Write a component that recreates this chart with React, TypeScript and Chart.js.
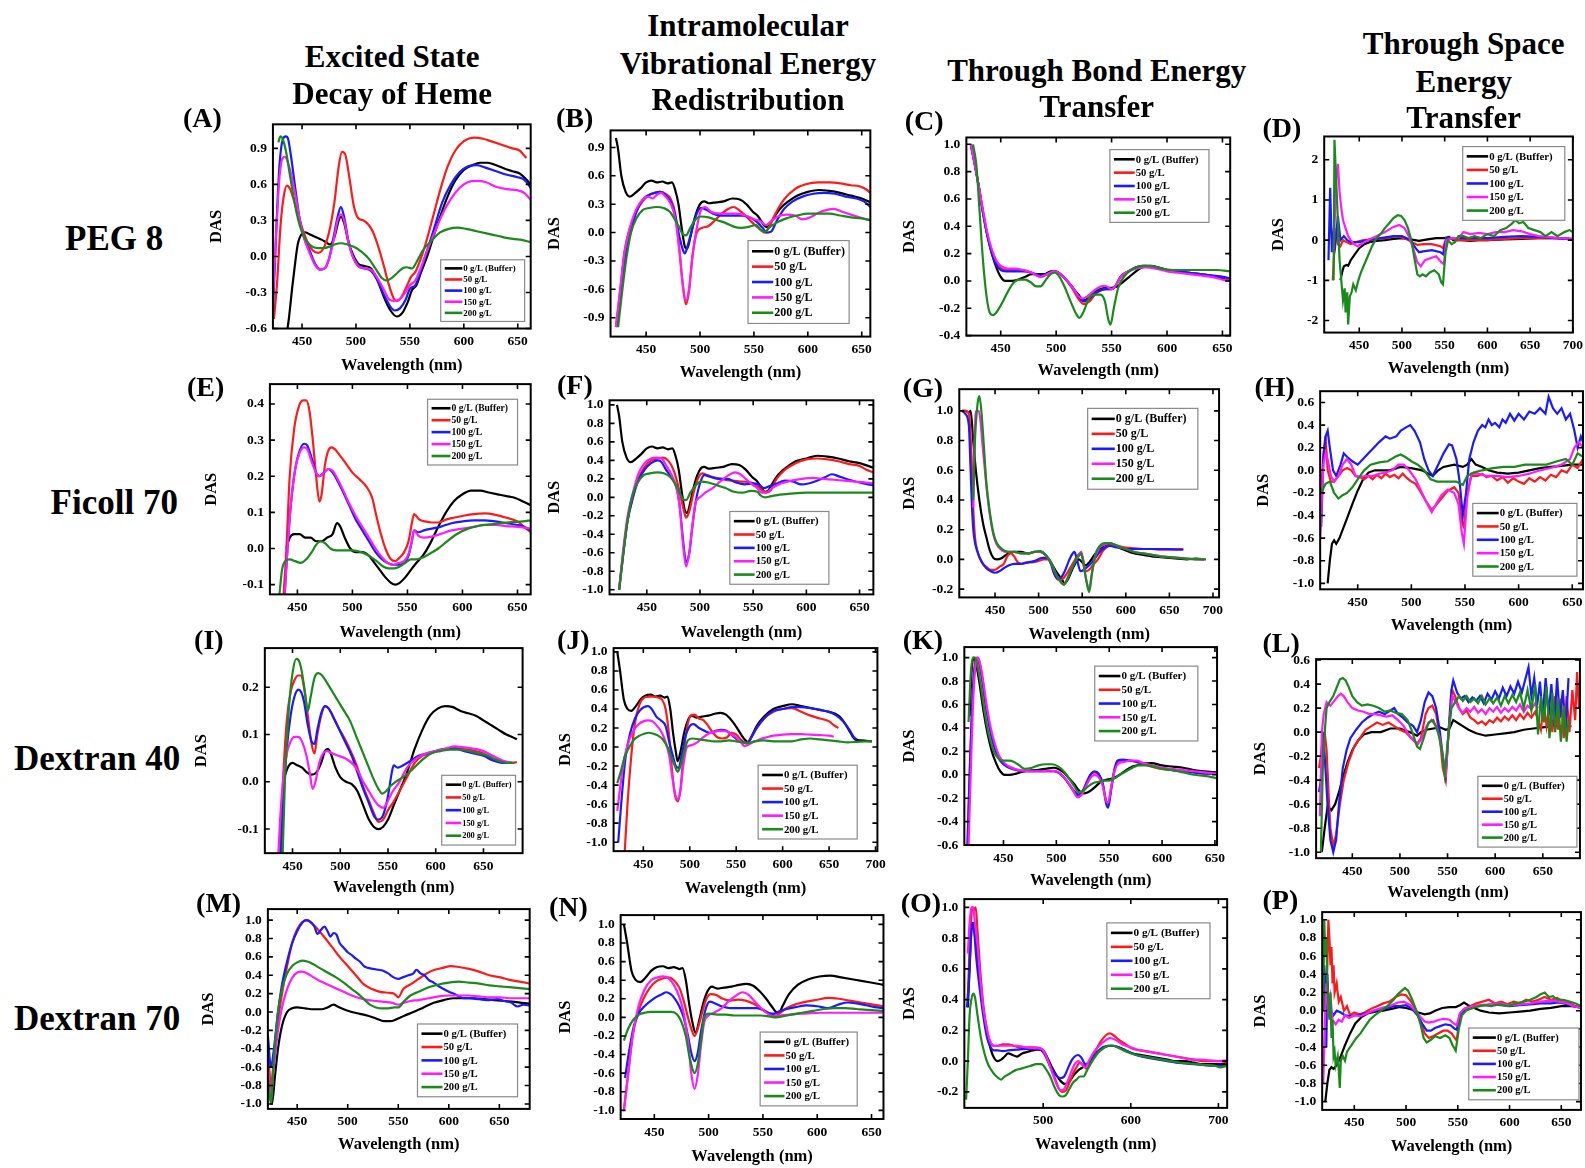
import React, { useEffect, useRef } from "react";
import { Chart, registerables } from "chart.js";

Chart.register(...registerables);

// Layout numbers are given on a 1568-wide grid; K maps them onto the 1585 px page.
const K = 1585 / 1568;
const FONT = "'Liberation Serif', 'Times New Roman', Times, serif";

const LEGEND_LABELS = ["0 g/L (Buffer)", "50 g/L", "100 g/L", "150 g/L", "200 g/L"];
const LINE_COLORS = ["#000000", "#ff1a1a", "#1a1aff", "#ff1aff", "#1a8a1a"];

// Tick values
const X_TICKS_650 = [450, 500, 550, 600, 650];
const X_TICKS_700 = [450, 500, 550, 600, 650, 700];
const X_TICKS_O = [500, 600, 700];
const Y_TICKS_A = [-0.6, -0.3, 0, 0.3, 0.6, 0.9];
const Y_TICKS_B = [-0.9, -0.6, -0.3, 0, 0.3, 0.6, 0.9];
const Y_TICKS_C = [-0.4, -0.2, 0, 0.2, 0.4, 0.6, 0.8, 1.0];
const Y_TICKS_D = [-2, -1, 0, 1, 2];
const Y_TICKS_E = [-0.1, 0, 0.1, 0.2, 0.3, 0.4];
const Y_TICKS_UNIT = [-1.0, -0.8, -0.6, -0.4, -0.2, 0, 0.2, 0.4, 0.6, 0.8, 1.0];
const Y_TICKS_G = [-0.2, 0, 0.2, 0.4, 0.6, 0.8, 1.0];
const Y_TICKS_H = [-1.0, -0.8, -0.6, -0.4, -0.2, 0, 0.2, 0.4, 0.6];
const Y_TICKS_I = [-0.1, 0, 0.1, 0.2];
const Y_TICKS_K = [-0.6, -0.4, -0.2, 0, 0.2, 0.4, 0.6, 0.8, 1.0];

// DAS spectra: flat lists of (wavelength nm, amplitude) pairs
// (A) PEG 8 – excited state decay of heme
const dasA_0 = [435,-0.7, 438,-0.5, 441,-0.25, 443,-0.1, 446,0.1, 450,0.19, 453,0.2, 458,0.18, 463,0.16, 468,0.14, 472,0.12, 476,0.1, 480,0.16, 484,0.3, 486,0.33, 489,0.28, 493,0.12, 497,0.02, 502,-0.06, 508,-0.08, 514,-0.1, 520,-0.2, 526,-0.34, 532,-0.45, 538,-0.5, 543,-0.47, 548,-0.38, 552,-0.28, 556,-0.24, 560,-0.14, 566,0, 572,0.17, 578,0.33, 585,0.5, 592,0.63, 600,0.72, 608,0.76, 615,0.78, 622,0.78, 630,0.76, 638,0.73, 645,0.71, 652,0.69, 658,0.64, 662,0.6];
const dasA_50 = [424,-0.52, 427,-0.2, 430,0.25, 433,0.5, 436,0.59, 439,0.56, 443,0.45, 447,0.33, 450,0.24, 455,0.12, 460,0.05, 465,0.03, 470,0.07, 475,0.2, 480,0.45, 484,0.75, 487,0.87, 490,0.85, 494,0.65, 498,0.42, 502,0.32, 507,0.3, 512,0.26, 516,0.2, 520,0.1, 525,-0.05, 530,-0.22, 535,-0.35, 538,-0.37, 542,-0.34, 547,-0.25, 551,-0.17, 555,-0.13, 560,-0.02, 566,0.15, 572,0.35, 578,0.55, 585,0.75, 592,0.88, 600,0.96, 610,0.99, 618,0.98, 625,0.96, 635,0.93, 645,0.9, 652,0.88, 656,0.84, 658,0.82];
const dasA_100 = [423,-0.47, 426,0.2, 429,0.75, 432,0.97, 435,1.0, 437,0.98, 440,0.82, 444,0.55, 448,0.3, 452,0.15, 457,0.05, 462,-0.06, 467,-0.11, 471,-0.1, 475,-0.02, 479,0.15, 483,0.33, 486,0.41, 489,0.33, 493,0.13, 497,0, 502,-0.08, 508,-0.1, 514,-0.12, 520,-0.2, 526,-0.32, 532,-0.42, 536,-0.45, 541,-0.43, 546,-0.36, 550,-0.27, 555,-0.24, 560,-0.12, 566,0.05, 572,0.22, 580,0.45, 588,0.6, 596,0.7, 604,0.75, 612,0.76, 620,0.74, 630,0.71, 640,0.68, 650,0.66, 656,0.64, 662,0.57];
const dasA_150 = [423,-0.35, 426,0.2, 429,0.65, 432,0.82, 434,0.83, 437,0.78, 440,0.68, 444,0.5, 448,0.3, 452,0.15, 457,0.03, 462,-0.07, 467,-0.11, 471,-0.1, 475,-0.02, 479,0.12, 483,0.3, 486,0.35, 489,0.3, 493,0.12, 497,0, 502,-0.08, 508,-0.1, 514,-0.11, 520,-0.18, 526,-0.28, 531,-0.36, 535,-0.37, 540,-0.36, 545,-0.31, 550,-0.24, 555,-0.2, 560,-0.1, 566,0.05, 572,0.18, 580,0.35, 588,0.48, 596,0.57, 604,0.62, 612,0.63, 620,0.62, 630,0.58, 640,0.56, 650,0.55, 656,0.53, 662,0.47];
const dasA_200 = [428,0.95, 430,1.0, 432,0.98, 435,0.88, 438,0.72, 442,0.5, 446,0.32, 450,0.2, 455,0.12, 460,0.08, 465,0.07, 470,0.07, 475,0.08, 480,0.1, 486,0.11, 492,0.1, 498,0.08, 505,0.04, 512,-0.02, 518,-0.1, 524,-0.18, 528,-0.2, 533,-0.18, 538,-0.14, 543,-0.1, 547,-0.09, 552,-0.1, 556,-0.05, 562,0.05, 570,0.13, 578,0.2, 586,0.23, 594,0.24, 602,0.23, 612,0.21, 622,0.19, 632,0.17, 642,0.15, 652,0.14, 662,0.12];

// (B) PEG 8 – intramolecular vibrational energy redistribution
const dasB_0 = [422,1.0, 424,0.88, 427,0.6, 431,0.43, 435,0.38, 440,0.42, 445,0.47, 450,0.53, 455,0.55, 460,0.53, 465,0.54, 470,0.52, 474,0.53, 477,0.45, 480,0.3, 483,0.05, 486,-0.15, 488,-0.17, 491,-0.05, 495,0.15, 500,0.3, 504,0.33, 508,0.31, 515,0.32, 522,0.33, 530,0.36, 537,0.35, 543,0.3, 549,0.22, 554,0.17, 558,0.1, 561,0.06, 564,0.07, 568,0.15, 574,0.25, 582,0.33, 590,0.39, 600,0.43, 610,0.45, 620,0.44, 630,0.42, 640,0.39, 650,0.36, 658,0.32];
const dasB_50 = [422,-1.0, 426,-0.6, 430,-0.2, 435,0.05, 440,0.2, 446,0.32, 452,0.39, 458,0.42, 463,0.43, 468,0.41, 473,0.35, 477,0.2, 481,-0.2, 484,-0.55, 487,-0.76, 490,-0.6, 493,-0.25, 497,0, 502,0.05, 508,0.07, 514,0.13, 520,0.2, 526,0.25, 531,0.27, 536,0.24, 542,0.18, 548,0.11, 553,0.06, 557,0.02, 560,0, 564,0.06, 570,0.2, 578,0.35, 588,0.46, 598,0.51, 610,0.53, 620,0.53, 630,0.52, 640,0.5, 648,0.49, 655,0.45, 658,0.42];
const dasB_100 = [423,-1.0, 427,-0.6, 431,-0.25, 436,0.02, 441,0.22, 447,0.35, 453,0.4, 458,0.42, 463,0.43, 468,0.4, 473,0.32, 477,0.18, 481,-0.05, 484,-0.18, 486,-0.22, 489,-0.12, 493,0.05, 497,0.2, 501,0.26, 506,0.24, 512,0.2, 520,0.18, 530,0.18, 540,0.18, 548,0.15, 554,0.1, 558,0.05, 562,0, 566,0.01, 571,0.12, 578,0.25, 586,0.33, 595,0.38, 605,0.41, 615,0.42, 625,0.41, 635,0.38, 645,0.36, 652,0.33, 658,0.27];
const dasB_150 = [422,-1.0, 426,-0.6, 430,-0.2, 435,0.05, 441,0.25, 447,0.35, 452,0.38, 456,0.36, 460,0.4, 464,0.42, 468,0.38, 473,0.3, 477,0.15, 481,-0.2, 484,-0.55, 487,-0.72, 490,-0.58, 493,-0.25, 497,0.05, 501,0.24, 505,0.27, 510,0.22, 518,0.2, 526,0.2, 534,0.2, 542,0.18, 550,0.14, 556,0.12, 561,0.08, 566,0.12, 572,0.17, 580,0.19, 588,0.18, 595,0.14, 602,0.16, 610,0.21, 618,0.24, 624,0.25, 632,0.22, 640,0.19, 648,0.16, 655,0.14, 658,0.13];
const dasB_200 = [424,-1.0, 428,-0.6, 432,-0.25, 436,0, 441,0.15, 447,0.24, 453,0.26, 460,0.27, 466,0.26, 472,0.22, 477,0.13, 481,0.05, 484,-0.02, 487,-0.03, 491,0.05, 496,0.14, 501,0.17, 508,0.16, 516,0.13, 524,0.1, 532,0.06, 538,0.05, 545,0.06, 552,0.08, 557,0.02, 560,0.01, 565,0.06, 572,0.11, 580,0.15, 590,0.18, 600,0.2, 610,0.2, 620,0.2, 630,0.18, 640,0.16, 650,0.15, 658,0.13];

// (C) PEG 8 – through bond energy transfer
const dasC_0 = [423,1.0, 426,0.88, 430,0.7, 434,0.5, 438,0.33, 442,0.2, 446,0.1, 450,0.03, 454,0, 460,0, 466,0.01, 472,0.03, 478,0.05, 484,0.05, 490,0.05, 495,0.07, 500,0.07, 505,0.04, 510,0, 515,-0.05, 520,-0.1, 525,-0.14, 530,-0.12, 535,-0.08, 540,-0.06, 545,-0.05, 550,-0.05, 555,-0.04, 560,-0.01, 566,0.03, 572,0.07, 578,0.1, 585,0.11, 592,0.1, 600,0.08, 610,0.07, 620,0.06, 630,0.05, 640,0.04, 650,0.02, 657,0.01];
const dasC_50 = [423,1.0, 426,0.88, 430,0.7, 434,0.5, 438,0.33, 442,0.22, 446,0.14, 450,0.1, 456,0.08, 462,0.08, 470,0.08, 478,0.06, 486,0.03, 492,0.05, 498,0.07, 504,0.05, 510,0, 515,-0.06, 520,-0.13, 525,-0.17, 530,-0.15, 535,-0.1, 540,-0.07, 545,-0.06, 550,-0.06, 554,-0.03, 558,0.03, 565,0.07, 572,0.1, 580,0.11, 590,0.1, 600,0.08, 610,0.07, 620,0.06, 630,0.05, 640,0.04, 650,0.03, 657,0.01];
const dasC_100 = [423,1.0, 426,0.88, 430,0.7, 434,0.5, 438,0.33, 442,0.2, 446,0.12, 450,0.08, 456,0.07, 462,0.07, 470,0.07, 478,0.06, 486,0.04, 492,0.05, 498,0.07, 504,0.05, 510,0, 515,-0.05, 520,-0.11, 525,-0.15, 530,-0.13, 535,-0.09, 540,-0.07, 545,-0.06, 550,-0.06, 554,-0.03, 558,0.03, 565,0.07, 572,0.1, 580,0.11, 590,0.1, 600,0.08, 610,0.07, 620,0.06, 630,0.05, 640,0.04, 650,0.03, 657,0.02];
const dasC_150 = [423,1.0, 426,0.88, 430,0.7, 434,0.52, 438,0.35, 442,0.23, 446,0.15, 450,0.11, 456,0.09, 462,0.09, 470,0.08, 478,0.06, 486,0.03, 492,0.05, 498,0.07, 504,0.05, 510,0, 515,-0.05, 520,-0.11, 524,-0.13, 530,-0.1, 536,-0.06, 540,-0.04, 544,-0.035, 550,-0.06, 554,-0.03, 558,0.03, 565,0.07, 572,0.09, 580,0.1, 590,0.09, 600,0.07, 610,0.06, 620,0.05, 630,0.04, 640,0.03, 650,0.01, 657,0];
const dasC_200 = [425,1.0, 428,0.85, 431,0.5, 434,0.15, 437,-0.1, 440,-0.23, 443,-0.25, 447,-0.22, 452,-0.15, 457,-0.07, 462,-0.01, 467,0.01, 472,0.01, 477,-0.01, 482,-0.04, 486,-0.04, 490,0, 495,0.05, 499,0.06, 503,0.03, 508,-0.05, 513,-0.15, 518,-0.24, 521,-0.27, 525,-0.22, 530,-0.12, 535,-0.1, 540,-0.1, 544,-0.15, 547,-0.28, 549,-0.32, 552,-0.2, 556,-0.05, 562,0.04, 570,0.09, 578,0.11, 585,0.11, 595,0.09, 605,0.08, 615,0.08, 630,0.08, 645,0.08, 657,0.07];

// (D) PEG 8 – through space energy transfer
const dasD_0 = [428,-1.0, 430,-0.8, 432,-0.65, 435,-0.62, 437,-0.64, 440,-0.5, 445,-0.35, 450,-0.2, 456,-0.1, 462,-0.05, 470,-0.02, 480,0, 490,0.03, 500,0.05, 510,0.02, 520,-0.02, 530,0.02, 540,0.05, 550,0.05, 555,0.08, 560,0, 570,0, 580,-0.02, 590,0, 600,0, 620,0.02, 640,0.03, 660,0.05, 680,0.05, 700,0.03];
const dasD_50 = [419,-1.0, 421,-0.2, 423,0.3, 425,-0.1, 428,-0.15, 431,0, 435,-0.05, 440,-0.1, 446,-0.05, 455,0, 465,0.02, 480,0.05, 495,0.1, 505,0.03, 512,-0.05, 518,-0.12, 525,-0.1, 535,-0.1, 545,-0.15, 548,-0.2, 552,0.05, 556,0.05, 565,0, 580,0, 600,0, 620,0.03, 640,0.05, 660,0.05, 680,0.05, 700,0.02];
const dasD_100 = [414,-0.5, 416,1.3, 418,-0.3, 420,0.2, 422,-0.1, 425,0.6, 428,0, 432,0.1, 436,0, 440,-0.05, 450,-0.05, 460,0, 475,0.05, 490,0.1, 500,0.1, 510,0, 516,-0.2, 520,-0.3, 525,-0.28, 535,-0.25, 545,-0.3, 548,-0.35, 552,0.05, 560,0.05, 575,0.05, 600,0.05, 620,0.08, 640,0.1, 660,0.08, 680,0.05, 700,0.02];
const dasD_150 = [420,-0.3, 423,1.5, 425,1.9, 427,1.2, 429,0.8, 431,0.5, 434,0.3, 437,0.1, 440,0, 444,-0.1, 448,-0.15, 452,-0.1, 460,0, 470,0.1, 480,0.2, 490,0.33, 497,0.38, 503,0.3, 508,0.1, 513,-0.2, 518,-0.55, 522,-0.65, 527,-0.5, 533,-0.45, 540,-0.4, 546,-0.55, 549,-0.6, 552,0, 558,0.05, 566,0.05, 572,0.2, 580,0.15, 590,0.18, 600,0.15, 610,0.2, 620,0.2, 630,0.25, 640,0.22, 650,0.15, 660,0.1, 670,0.08, 685,0.05, 700,0.03];
const dasD_200 = [420,-1.0, 421,2.5, 423,1.5, 425,0.5, 427,-0.5, 429,-1.0, 431,-1.5, 433,-1.2, 434,-1.8, 436,-1.3, 437,-2.1, 439,-1.4, 441,-1.3, 443,-1.1, 446,-1.25, 449,-1.0, 452,-0.8, 456,-0.6, 460,-0.4, 465,-0.15, 470,0.05, 475,0.15, 480,0.3, 485,0.42, 490,0.55, 495,0.62, 499,0.6, 503,0.5, 507,0.3, 511,0, 515,-0.5, 518,-0.85, 521,-0.9, 524,-0.85, 528,-0.9, 533,-0.8, 538,-0.75, 543,-0.85, 546,-1.05, 548,-1.1, 551,-0.3, 554,0, 558,-0.1, 562,-0.05, 566,0.1, 572,0.1, 578,0.05, 585,0.1, 592,0.05, 600,0.15, 608,0.1, 615,0.25, 622,0.3, 628,0.4, 633,0.5, 637,0.42, 642,0.45, 648,0.3, 655,0.25, 662,0.2, 668,0.1, 675,0.2, 682,0.1, 690,0.2, 696,0.25, 700,0.2];

// (E) Ficoll 70 – excited state decay of heme
const dasE_0 = [440,0, 443,0.03, 447,0.04, 452,0.04, 457,0.03, 462,0.03, 467,0.02, 472,0.02, 477,0.03, 482,0.04, 486,0.07, 489,0.06, 493,0.03, 498,0, 503,-0.01, 509,-0.01, 515,-0.02, 520,-0.04, 525,-0.06, 530,-0.08, 535,-0.095, 539,-0.1, 543,-0.095, 548,-0.08, 553,-0.06, 558,-0.04, 564,-0.02, 570,0.01, 578,0.06, 585,0.1, 592,0.13, 600,0.15, 608,0.16, 616,0.16, 624,0.155, 632,0.15, 640,0.145, 648,0.14, 655,0.13, 662,0.12];
const dasE_50 = [437,-0.15, 440,0, 443,0.2, 447,0.33, 451,0.39, 455,0.41, 458,0.41, 461,0.38, 464,0.3, 467,0.2, 470,0.13, 472,0.15, 475,0.23, 478,0.27, 481,0.28, 484,0.275, 488,0.26, 493,0.24, 500,0.21, 507,0.19, 513,0.17, 518,0.14, 521,0.1, 525,0.05, 530,0, 535,-0.03, 539,-0.035, 543,-0.025, 547,-0.01, 551,0.02, 554,0.07, 556,0.095, 558,0.09, 561,0.08, 566,0.075, 572,0.072, 578,0.072, 585,0.08, 592,0.085, 600,0.09, 610,0.095, 620,0.097, 630,0.093, 640,0.085, 650,0.075, 656,0.06, 662,0.045];
const dasE_100 = [438,-0.15, 441,0, 444,0.12, 448,0.22, 452,0.27, 456,0.29, 459,0.285, 463,0.25, 467,0.21, 470,0.2, 474,0.21, 478,0.22, 482,0.21, 486,0.19, 491,0.16, 497,0.12, 503,0.08, 509,0.05, 515,0.02, 521,-0.01, 527,-0.03, 532,-0.04, 537,-0.045, 542,-0.045, 547,-0.04, 551,-0.02, 554,0.02, 556,0.05, 560,0.045, 565,0.05, 572,0.055, 580,0.06, 590,0.07, 600,0.075, 610,0.078, 620,0.078, 630,0.075, 640,0.07, 650,0.065, 656,0.06, 662,0.05];
const dasE_150 = [438,-0.15, 441,0, 444,0.12, 448,0.22, 452,0.265, 456,0.28, 459,0.275, 463,0.24, 467,0.21, 470,0.2, 474,0.21, 478,0.22, 482,0.215, 486,0.195, 491,0.165, 497,0.125, 503,0.09, 509,0.06, 515,0.03, 521,0, 527,-0.025, 532,-0.04, 537,-0.045, 542,-0.04, 547,-0.035, 551,-0.015, 554,0.02, 556,0.05, 560,0.035, 565,0.03, 572,0.033, 580,0.04, 590,0.05, 600,0.055, 610,0.06, 620,0.065, 630,0.065, 640,0.062, 650,0.06, 656,0.058, 662,0.055];
const dasE_200 = [433,-0.15, 436,-0.06, 439,-0.035, 443,-0.03, 448,-0.035, 453,-0.04, 458,-0.03, 463,-0.01, 467,0.01, 471,0.02, 475,0.015, 480,0, 485,-0.005, 492,-0.005, 500,-0.005, 508,-0.01, 515,-0.02, 522,-0.035, 528,-0.05, 533,-0.055, 538,-0.055, 543,-0.05, 548,-0.04, 553,-0.03, 558,-0.03, 564,-0.025, 570,-0.015, 578,0, 586,0.02, 595,0.04, 605,0.055, 615,0.063, 625,0.067, 635,0.07, 645,0.073, 655,0.075, 662,0.078];

// (F) Ficoll 70 – intramolecular vibrational energy redistribution
const dasF_0 = [422,1.0, 424,0.88, 427,0.6, 431,0.43, 435,0.38, 440,0.42, 445,0.47, 450,0.53, 455,0.55, 460,0.53, 465,0.54, 470,0.52, 474,0.53, 477,0.45, 480,0.3, 483,0.05, 486,-0.15, 488,-0.17, 491,-0.05, 495,0.15, 500,0.3, 504,0.33, 508,0.31, 515,0.32, 522,0.33, 530,0.36, 537,0.35, 543,0.3, 549,0.22, 554,0.17, 558,0.1, 561,0.06, 564,0.07, 568,0.15, 574,0.25, 582,0.33, 590,0.39, 600,0.42, 610,0.45, 620,0.44, 630,0.42, 640,0.39, 650,0.37, 663,0.32];
const dasF_50 = [424,-1.0, 428,-0.6, 432,-0.25, 437,0, 442,0.2, 448,0.33, 454,0.4, 460,0.42, 465,0.43, 470,0.4, 475,0.3, 479,0.15, 482,0, 485,-0.15, 487,-0.22, 490,-0.15, 494,0.05, 498,0.2, 502,0.26, 507,0.24, 512,0.22, 520,0.2, 530,0.18, 540,0.17, 548,0.16, 554,0.12, 558,0.08, 562,0.05, 566,0.07, 572,0.2, 580,0.3, 590,0.37, 600,0.41, 610,0.42, 620,0.41, 630,0.39, 640,0.36, 650,0.34, 656,0.3, 663,0.27];
const dasF_100 = [424,-1.0, 428,-0.6, 432,-0.25, 437,0, 442,0.18, 448,0.3, 454,0.37, 460,0.4, 464,0.38, 468,0.3, 473,0.22, 478,0.1, 481,-0.1, 484,-0.45, 487,-0.7, 490,-0.6, 493,-0.3, 496,-0.05, 500,0.15, 504,0.24, 510,0.22, 518,0.2, 526,0.2, 534,0.16, 542,0.14, 550,0.15, 555,0.14, 560,0.1, 565,0.12, 572,0.15, 580,0.18, 588,0.17, 595,0.14, 602,0.15, 610,0.18, 618,0.22, 624,0.25, 630,0.23, 640,0.19, 650,0.16, 658,0.14, 663,0.13];
const dasF_150 = [424,-1.0, 428,-0.55, 432,-0.2, 437,0.05, 442,0.25, 448,0.37, 454,0.42, 459,0.43, 464,0.42, 468,0.35, 473,0.25, 478,0.1, 481,-0.1, 484,-0.5, 487,-0.75, 490,-0.6, 493,-0.3, 496,-0.05, 500,0, 505,0.05, 512,0.1, 520,0.18, 527,0.24, 533,0.27, 538,0.25, 543,0.2, 549,0.14, 554,0.1, 558,0.05, 562,0.05, 568,0.1, 576,0.15, 586,0.18, 596,0.2, 606,0.21, 616,0.2, 626,0.19, 636,0.18, 646,0.17, 656,0.16, 663,0.15];
const dasF_200 = [424,-1.0, 428,-0.6, 432,-0.25, 436,0, 441,0.15, 447,0.24, 453,0.26, 460,0.27, 466,0.26, 472,0.22, 477,0.14, 481,0.05, 484,-0.02, 487,-0.03, 491,0.05, 496,0.13, 501,0.17, 508,0.16, 516,0.13, 524,0.1, 532,0.06, 540,0.05, 548,0.07, 554,0.06, 557,0.02, 561,0, 566,0.01, 575,0.03, 585,0.04, 600,0.05, 620,0.05, 640,0.05, 663,0.05];

// (G) Ficoll 70 – through bond energy transfer
const dasG_0 = [412,1.0, 416,1.0, 420,0.99, 422,1.0, 425,0.8, 428,0.6, 432,0.4, 436,0.25, 440,0.15, 444,0.06, 448,0.01, 452,0, 458,0.01, 465,0.04, 472,0.05, 480,0.05, 488,0.04, 495,0.05, 502,0.05, 508,0.03, 514,-0.02, 520,-0.08, 526,-0.13, 530,-0.16, 534,-0.13, 540,-0.05, 546,0, 550,-0.02, 554,-0.04, 558,-0.02, 564,0.03, 570,0.07, 578,0.1, 585,0.1, 592,0.08, 600,0.06, 610,0.04, 620,0.03, 630,0.02, 640,0.015, 650,0.01, 660,0.005, 670,0, 680,0.005, 690,0];
const dasG_50 = [412,1.0, 416,1.0, 420,0.98, 423,0.7, 425,0.35, 427,0.15, 430,0.05, 435,-0.02, 440,-0.05, 445,-0.07, 450,-0.07, 455,-0.05, 460,-0.03, 464,0.02, 468,0.04, 472,0.02, 476,-0.02, 480,-0.03, 486,-0.02, 492,-0.02, 500,-0.01, 506,0, 512,0, 516,-0.05, 520,-0.12, 524,-0.14, 528,-0.13, 532,-0.1, 536,-0.06, 540,-0.02, 544,0.02, 548,0.04, 551,0, 554,-0.08, 558,-0.07, 562,-0.04, 568,0, 574,0.06, 580,0.09, 586,0.1, 592,0.09, 600,0.08, 610,0.075, 620,0.07, 630,0.07, 640,0.065, 650,0.065, 660,0.07, 666,0.07];
const dasG_100 = [412,1.0, 416,0.98, 420,0.9, 422,0.6, 424,0.3, 426,0.15, 430,0.05, 435,-0.02, 440,-0.06, 445,-0.08, 450,-0.09, 455,-0.08, 460,-0.06, 466,-0.04, 472,-0.03, 480,-0.03, 488,-0.02, 496,-0.01, 504,0.01, 510,0.01, 514,-0.03, 518,-0.1, 522,-0.13, 526,-0.12, 530,-0.08, 534,-0.02, 538,0.03, 541,0.05, 544,0, 548,-0.08, 552,-0.07, 558,-0.04, 564,0, 570,0.05, 576,0.08, 582,0.09, 590,0.08, 600,0.07, 610,0.07, 620,0.07, 630,0.07, 640,0.07, 650,0.07, 660,0.065, 666,0.065];
const dasG_150 = [425,0.35, 427,0.9, 429,1.0, 431,1.0, 433,0.95, 436,0.75, 440,0.5, 444,0.3, 448,0.17, 452,0.1, 458,0.06, 465,0.05, 472,0.05, 480,0.04, 488,0.04, 495,0.05, 502,0.05, 508,0.03, 514,-0.02, 520,-0.1, 525,-0.15, 529,-0.17, 533,-0.13, 538,-0.06, 543,0, 547,0.04, 549,0.05, 552,-0.05, 555,-0.15, 558,-0.2, 561,-0.1, 565,0.02, 570,0.08, 576,0.1, 582,0.11, 590,0.09, 600,0.07, 610,0.05, 620,0.04, 630,0.03, 640,0.02, 650,0.015, 660,0.01, 670,0.005, 680,0, 690,0];
const dasG_200 = [425,0.4, 427,0.8, 430,1.05, 432,1.1, 434,1.02, 437,0.78, 440,0.52, 444,0.32, 448,0.18, 452,0.11, 458,0.07, 465,0.05, 472,0.05, 480,0.04, 488,0.04, 495,0.05, 502,0.055, 508,0.03, 514,-0.02, 520,-0.1, 525,-0.15, 529,-0.17, 533,-0.13, 538,-0.06, 543,0, 547,0.03, 549,0.04, 552,-0.05, 555,-0.15, 558,-0.22, 561,-0.1, 565,0.03, 570,0.09, 576,0.11, 582,0.11, 590,0.09, 600,0.07, 610,0.05, 620,0.04, 630,0.03, 640,0.02, 650,0.015, 660,0.01, 670,0.005, 680,0, 692,0];

// (H) Ficoll 70 – through space energy transfer
const dasH_0 = [422,-1.0, 424,-0.8, 426,-0.65, 428,-0.62, 430,-0.65, 433,-0.6, 437,-0.5, 441,-0.4, 445,-0.3, 450,-0.18, 455,-0.08, 460,-0.02, 466,0, 472,0, 480,0, 490,0.03, 500,0.02, 510,0, 516,-0.03, 520,-0.05, 525,0, 530,0.03, 540,0.05, 548,0.03, 552,0.05, 556,0.1, 560,0.05, 566,0.03, 572,0, 580,-0.02, 590,-0.03, 600,-0.02, 610,0, 620,0.02, 630,0.03, 640,0.04, 650,0.05, 660,0.05];
const dasH_50 = [416,-0.2, 418,0.15, 420,0.3, 422,0, 425,-0.1, 428,-0.1, 432,-0.05, 436,0, 440,0.02, 444,0, 448,-0.05, 452,-0.06, 456,-0.08, 460,-0.05, 464,-0.08, 468,-0.04, 472,-0.07, 476,-0.03, 480,-0.06, 484,-0.04, 488,-0.07, 492,-0.03, 496,-0.07, 500,-0.1, 504,-0.12, 508,-0.18, 514,-0.28, 519,-0.35, 522,-0.32, 528,-0.25, 534,-0.18, 540,-0.15, 544,-0.2, 547,-0.45, 549,-0.5, 552,-0.2, 556,-0.05, 562,-0.05, 566,-0.03, 570,-0.06, 575,-0.05, 580,-0.09, 585,-0.06, 590,-0.11, 595,-0.07, 600,-0.1, 605,-0.12, 610,-0.07, 615,-0.1, 620,-0.06, 625,-0.09, 630,-0.04, 635,-0.06, 640,0, 645,-0.02, 650,0.05, 655,0.02, 660,0.1];
const dasH_100 = [416,-0.5, 418,0.1, 420,0.3, 422,0.35, 424,0.2, 427,0, 430,-0.05, 434,0.05, 437,0.15, 440,0.12, 445,0.08, 450,0.05, 455,0.1, 460,0.15, 465,0.2, 470,0.25, 476,0.3, 480,0.28, 486,0.3, 490,0.35, 495,0.38, 499,0.4, 503,0.35, 508,0.25, 512,0.1, 516,0, 520,-0.05, 525,0.05, 530,0.15, 535,0.23, 538,0.22, 542,0.1, 545,-0.1, 548,-0.4, 551,-0.2, 554,0.1, 558,0.25, 562,0.35, 566,0.4, 569,0.38, 572,0.45, 575,0.4, 578,0.42, 582,0.38, 585,0.45, 588,0.42, 592,0.5, 596,0.44, 600,0.5, 605,0.45, 610,0.52, 615,0.5, 620,0.55, 625,0.5, 628,0.65, 632,0.55, 636,0.5, 640,0.55, 644,0.45, 648,0.5, 652,0.35, 655,0.2, 658,0.3, 660,0.25];
const dasH_150 = [415,-0.6, 418,0.05, 420,0.15, 422,0.1, 425,-0.05, 428,-0.1, 432,-0.05, 436,0.05, 440,0.1, 444,0.05, 448,-0.05, 452,-0.06, 458,-0.05, 464,-0.05, 470,-0.03, 476,-0.02, 482,0, 488,0.05, 493,0.05, 498,0, 504,-0.08, 510,-0.2, 515,-0.3, 519,-0.37, 523,-0.3, 528,-0.22, 534,-0.17, 540,-0.2, 544,-0.3, 547,-0.55, 549,-0.65, 552,-0.25, 556,-0.03, 562,-0.03, 570,-0.05, 580,-0.05, 590,-0.06, 600,-0.05, 610,-0.03, 620,0, 630,0.02, 640,0.05, 648,0.1, 652,0.2, 656,0.25, 660,0.2];
const dasH_200 = [416,-0.2, 420,-0.12, 424,-0.1, 428,-0.2, 432,-0.25, 436,-0.22, 440,-0.2, 445,-0.15, 450,-0.08, 456,0, 462,0.05, 470,0.07, 478,0.08, 485,0.12, 490,0.14, 494,0.12, 500,0.08, 506,0.05, 512,0, 518,-0.08, 524,-0.1, 530,-0.1, 536,-0.1, 542,-0.1, 548,-0.13, 552,-0.05, 558,-0.02, 566,0, 576,0.02, 586,0.03, 596,0.03, 606,0.05, 616,0.05, 626,0.05, 636,0.08, 644,0.1, 650,0.05, 655,0.15, 660,0.12];

// (I) Dextran 40 – excited state decay of heme
const dasI_0 = [440,0, 445,0.03, 450,0.04, 455,0.035, 460,0.03, 465,0.02, 470,0.015, 475,0.02, 480,0.04, 484,0.065, 487,0.07, 490,0.06, 495,0.03, 500,0.01, 506,0, 512,-0.005, 518,-0.02, 524,-0.05, 530,-0.08, 535,-0.095, 540,-0.1, 545,-0.095, 550,-0.08, 556,-0.05, 562,-0.02, 570,0.02, 578,0.07, 586,0.11, 594,0.14, 602,0.155, 610,0.16, 618,0.158, 626,0.15, 634,0.145, 642,0.14, 650,0.13, 658,0.12, 666,0.11, 674,0.1, 680,0.095, 685,0.09];
const dasI_50 = [436,-0.2, 440,0, 444,0.13, 448,0.19, 452,0.215, 456,0.225, 459,0.225, 462,0.2, 466,0.14, 470,0.08, 473,0.06, 476,0.1, 480,0.14, 484,0.16, 488,0.155, 492,0.14, 498,0.115, 505,0.09, 512,0.06, 518,0.03, 524,-0.01, 530,-0.04, 536,-0.07, 540,-0.085, 545,-0.08, 550,-0.06, 555,-0.045, 562,-0.02, 570,0.01, 578,0.04, 586,0.055, 594,0.06, 602,0.065, 610,0.07, 618,0.072, 626,0.07, 634,0.068, 642,0.065, 650,0.06, 658,0.05, 666,0.045, 674,0.04, 680,0.04, 685,0.042];
const dasI_100 = [437,-0.2, 440,-0.05, 444,0.07, 448,0.14, 452,0.18, 456,0.195, 459,0.19, 462,0.17, 466,0.12, 470,0.085, 473,0.08, 476,0.11, 480,0.145, 484,0.16, 488,0.155, 492,0.14, 498,0.115, 505,0.085, 512,0.055, 518,0.02, 524,-0.015, 530,-0.045, 536,-0.075, 540,-0.08, 545,-0.07, 550,-0.03, 554,0.02, 556,0.035, 560,0.03, 566,0.035, 574,0.045, 582,0.055, 590,0.06, 600,0.065, 610,0.07, 620,0.07, 630,0.065, 640,0.06, 650,0.055, 660,0.045, 670,0.04, 680,0.04];
const dasI_150 = [434,-0.2, 437,-0.08, 440,0, 444,0.06, 448,0.085, 452,0.095, 456,0.095, 460,0.085, 464,0.06, 468,0.02, 471,-0.015, 474,0, 478,0.04, 482,0.06, 486,0.065, 492,0.06, 498,0.055, 505,0.05, 512,0.04, 518,0.025, 524,0, 530,-0.02, 536,-0.04, 540,-0.05, 545,-0.055, 550,-0.04, 555,-0.02, 562,0, 570,0.03, 580,0.05, 590,0.06, 600,0.065, 610,0.07, 620,0.075, 630,0.073, 640,0.07, 650,0.065, 660,0.055, 670,0.045, 680,0.04];
const dasI_200 = [439,-0.2, 442,0, 446,0.15, 450,0.23, 454,0.26, 457,0.255, 460,0.23, 463,0.19, 466,0.15, 469,0.18, 473,0.22, 477,0.23, 481,0.225, 486,0.21, 492,0.19, 498,0.17, 504,0.15, 510,0.13, 516,0.1, 522,0.07, 528,0.04, 534,0.01, 540,-0.015, 544,-0.025, 548,-0.02, 552,-0.01, 558,0, 566,0.01, 575,0.025, 585,0.045, 595,0.06, 605,0.065, 615,0.068, 625,0.068, 635,0.065, 645,0.06, 655,0.055, 665,0.045, 675,0.04, 682,0.04];

// (J) Dextran 40 – intramolecular vibrational energy redistribution
const dasJ_0 = [422,1.0, 425,0.8, 429,0.5, 433,0.4, 437,0.38, 442,0.43, 447,0.5, 452,0.54, 458,0.55, 463,0.53, 468,0.54, 473,0.52, 476,0.53, 479,0.4, 482,0.15, 485,-0.05, 487,-0.15, 490,-0.05, 494,0.15, 498,0.28, 502,0.33, 507,0.31, 513,0.32, 520,0.33, 527,0.35, 533,0.36, 539,0.34, 545,0.28, 551,0.2, 556,0.12, 560,0.07, 563,0.05, 566,0.1, 572,0.22, 580,0.32, 590,0.4, 600,0.43, 610,0.45, 620,0.43, 630,0.41, 640,0.39, 650,0.37, 660,0.33, 667,0.25, 673,0.15, 678,0.08, 684,0.07, 690,0.065, 696,0.06];
const dasJ_50 = [430,-1.1, 433,-0.6, 437,-0.1, 441,0.25, 446,0.45, 451,0.52, 456,0.53, 461,0.53, 466,0.52, 470,0.5, 474,0.4, 478,0.1, 481,-0.25, 484,-0.5, 487,-0.57, 490,-0.45, 493,-0.1, 497,0.2, 501,0.33, 505,0.34, 510,0.3, 515,0.28, 520,0.22, 525,0.15, 530,0.1, 535,0.09, 540,0.1, 545,0.15, 550,0.13, 555,0.08, 560,0.04, 565,0.08, 572,0.2, 580,0.3, 590,0.37, 600,0.4, 610,0.41, 620,0.37, 630,0.33, 640,0.3, 650,0.27, 655,0.23, 660,0.2];
const dasJ_100 = [423,-1.0, 427,-0.5, 431,-0.1, 436,0.15, 441,0.3, 446,0.38, 451,0.42, 455,0.43, 459,0.4, 464,0.32, 469,0.28, 474,0.22, 478,0.05, 482,-0.1, 485,-0.2, 488,-0.22, 491,-0.1, 495,0.1, 500,0.22, 504,0.24, 510,0.2, 516,0.17, 522,0.15, 528,0.17, 534,0.18, 540,0.17, 546,0.12, 552,0.07, 558,0.05, 562,0.04, 566,0.1, 572,0.2, 580,0.3, 590,0.38, 600,0.4, 610,0.42, 620,0.42, 630,0.41, 640,0.39, 650,0.37, 658,0.33, 665,0.27, 672,0.18, 677,0.1, 680,0.08];
const dasJ_150 = [422,-0.67, 426,-0.35, 430,-0.1, 435,0.08, 440,0.18, 445,0.24, 450,0.27, 455,0.28, 460,0.27, 465,0.22, 470,0.15, 474,0.05, 478,-0.1, 481,-0.3, 484,-0.48, 487,-0.55, 490,-0.45, 493,-0.2, 497,0, 502,0.02, 508,0.05, 514,0.1, 520,0.14, 526,0.16, 532,0.17, 538,0.17, 544,0.14, 550,0.1, 555,0.05, 559,0.01, 562,0.02, 568,0.05, 575,0.08, 582,0.1, 590,0.12, 600,0.13, 610,0.135, 620,0.135, 630,0.13, 640,0.125, 650,0.12, 655,0.11];
const dasJ_200 = [422,-0.38, 426,-0.25, 430,-0.1, 435,0, 440,0.08, 446,0.12, 451,0.14, 456,0.15, 461,0.14, 466,0.12, 471,0.08, 476,0, 480,-0.1, 484,-0.2, 487,-0.26, 490,-0.2, 494,-0.05, 498,0.07, 503,0.09, 510,0.08, 518,0.07, 526,0.06, 534,0.06, 542,0.07, 550,0.06, 556,0.05, 562,0.04, 570,0.06, 580,0.07, 590,0.06, 600,0.06, 610,0.06, 620,0.08, 630,0.09, 640,0.08, 650,0.07, 660,0.06, 670,0.05, 680,0.055, 690,0.06, 696,0.06];

// (K) Dextran 40 – through bond energy transfer
const dasK_0 = [418,0.5, 420,0.9, 422,1.0, 424,0.95, 427,0.8, 431,0.55, 435,0.35, 439,0.2, 443,0.1, 447,0.03, 451,0, 456,0, 462,0.01, 470,0.03, 480,0.04, 490,0.05, 497,0.06, 502,0.05, 507,0.02, 512,-0.03, 517,-0.08, 521,-0.13, 525,-0.16, 530,-0.15, 536,-0.11, 542,-0.06, 548,-0.04, 554,-0.03, 560,0, 566,0.04, 572,0.07, 580,0.09, 590,0.1, 600,0.08, 610,0.07, 620,0.06, 630,0.04, 640,0.03, 652,0.02];
const dasK_50 = [416,-0.6, 418,0, 420,0.5, 422,0.85, 424,1.0, 426,0.98, 429,0.85, 433,0.6, 437,0.4, 441,0.25, 445,0.15, 449,0.1, 453,0.08, 458,0.06, 463,0.04, 470,0.03, 480,0.03, 490,0.03, 497,0.03, 502,0.02, 507,-0.02, 512,-0.08, 517,-0.15, 520,-0.18, 524,-0.15, 528,-0.08, 532,0, 536,0.02, 540,0, 544,-0.08, 547,-0.22, 549,-0.25, 552,-0.1, 555,0.05, 558,0.12, 563,0.12, 570,0.12, 576,0.11, 582,0.09, 590,0.07, 600,0.05, 610,0.04, 620,0.03, 630,0.02, 640,0.01, 652,0.01];
const dasK_100 = [416,-0.6, 418,0, 420,0.5, 422,0.85, 424,0.97, 426,1.0, 429,0.88, 433,0.62, 437,0.4, 441,0.25, 445,0.15, 449,0.1, 453,0.07, 458,0.05, 463,0.04, 470,0.03, 480,0.03, 490,0.03, 497,0.03, 502,0.02, 507,-0.02, 512,-0.08, 517,-0.14, 521,-0.17, 525,-0.14, 529,-0.06, 533,0.01, 536,0.03, 540,0.01, 544,-0.08, 547,-0.24, 549,-0.28, 552,-0.12, 555,0.04, 558,0.12, 563,0.13, 570,0.12, 576,0.11, 582,0.1, 590,0.08, 600,0.06, 610,0.04, 620,0.03, 630,0.02, 640,0.01, 652,0.01];
const dasK_150 = [417,-0.6, 419,0, 421,0.55, 423,0.88, 425,1.0, 427,0.98, 430,0.85, 434,0.6, 438,0.4, 442,0.26, 446,0.16, 450,0.11, 455,0.07, 460,0.05, 466,0.04, 474,0.03, 484,0.03, 494,0.035, 500,0.03, 505,0, 510,-0.05, 515,-0.12, 520,-0.19, 524,-0.17, 528,-0.1, 532,-0.03, 536,0, 540,-0.02, 544,-0.1, 547,-0.22, 549,-0.24, 552,-0.1, 555,0.03, 558,0.09, 564,0.11, 570,0.12, 576,0.12, 582,0.1, 590,0.08, 600,0.06, 610,0.05, 620,0.04, 630,0.03, 640,0.02, 652,0.01];
const dasK_200 = [417,0.45, 419,0.85, 421,1.0, 423,1.0, 425,0.95, 428,0.8, 432,0.55, 436,0.35, 440,0.22, 445,0.14, 450,0.12, 455,0.12, 460,0.11, 465,0.08, 470,0.05, 477,0.06, 483,0.08, 490,0.09, 496,0.09, 502,0.07, 507,0.03, 512,-0.03, 517,-0.1, 521,-0.15, 525,-0.14, 530,-0.1, 535,-0.07, 540,-0.06, 545,-0.05, 550,-0.05, 555,-0.03, 560,0, 566,0.03, 572,0.06, 578,0.08, 585,0.08, 592,0.07, 600,0.05, 610,0.04, 620,0.02, 630,0, 640,-0.01, 647,-0.02, 652,-0.03];

// (L) Dextran 40 – through space energy transfer
const dasL_0 = [418,-1.0, 421,-0.8, 424,-0.62, 428,-0.65, 432,-0.6, 436,-0.5, 440,-0.38, 445,-0.25, 450,-0.15, 456,-0.07, 462,-0.02, 470,0, 480,0, 490,0.03, 500,0.03, 510,0, 518,-0.03, 522,0, 528,0.02, 535,0.03, 542,0.04, 548,0.02, 552,0.03, 556,0.1, 560,0.08, 566,0.05, 572,0.02, 580,-0.01, 590,-0.03, 600,-0.02, 610,-0.01, 620,0, 630,0.02, 640,0.03, 650,0.04, 660,0.05, 670,0.05, 680,0.05];
const dasL_50 = [415,-0.3, 417,-0.2, 419,-0.05, 421,0, 423,-0.15, 425,-0.5, 427,-0.8, 430,-0.95, 433,-0.85, 437,-0.6, 441,-0.4, 446,-0.25, 452,-0.12, 458,-0.05, 464,0.02, 470,0.05, 476,0.08, 482,0.06, 488,0.08, 494,0.05, 500,0.02, 506,0, 512,-0.05, 518,-0.1, 522,-0.05, 527,0.15, 530,0.2, 534,0.22, 538,0.15, 542,-0.05, 545,-0.3, 548,-0.4, 551,0, 555,0.35, 558,0.3, 562,0.2, 566,0.15, 570,0.18, 574,0.12, 578,0.1, 582,0.07, 586,0.09, 590,0.06, 594,0.1, 598,0.08, 602,0.12, 606,0.09, 610,0.13, 614,0.1, 618,0.14, 622,0.1, 626,0.15, 630,0.11, 634,0.16, 638,0.12, 642,0.17, 645,0.1, 648,0.02, 651,0.25, 654,0.05, 657,0.22, 660,0, 663,0.3, 666,0.02, 669,0.28, 672,-0.05, 675,0.3, 678,0, 681,0.35, 684,0.1, 686,0.5, 688,0.2];
const dasL_100 = [415,-0.5, 417,-0.4, 419,0, 421,-0.2, 424,-0.6, 427,-0.9, 430,-1.0, 433,-0.9, 436,-0.6, 440,-0.3, 444,-0.15, 448,-0.05, 454,0.02, 460,0.08, 466,0.12, 472,0.15, 478,0.17, 484,0.15, 490,0.18, 494,0.2, 498,0.15, 503,0.12, 508,0.08, 514,0.05, 518,0, 522,0.1, 526,0.25, 530,0.33, 534,0.3, 538,0.2, 542,0, 545,-0.2, 548,-0.35, 551,0, 554,0.35, 556,0.43, 560,0.33, 564,0.28, 568,0.3, 572,0.25, 576,0.29, 580,0.26, 584,0.3, 588,0.24, 592,0.32, 596,0.27, 600,0.34, 604,0.28, 608,0.37, 612,0.3, 616,0.38, 620,0.32, 624,0.42, 628,0.33, 632,0.45, 635,0.54, 638,0.3, 641,0.45, 644,0.22, 647,0.42, 650,0.12, 653,0.45, 656,0.15, 659,0.4, 662,0.05, 665,0.45, 668,0.12, 671,0.35, 674,0.02, 677,0.45];
const dasL_150 = [416,-0.7, 418,0, 420,0.15, 423,0.25, 427,0.22, 431,0.26, 435,0.3, 438,0.32, 441,0.3, 445,0.25, 450,0.2, 456,0.18, 462,0.17, 468,0.15, 474,0.15, 480,0.14, 486,0.13, 492,0.14, 498,0.1, 504,0.05, 510,-0.03, 516,-0.08, 519,-0.1, 523,-0.05, 528,0.05, 533,0.1, 538,0.05, 542,-0.05, 545,-0.2, 548,-0.38, 551,0, 555,0.3, 558,0.26, 562,0.2, 566,0.16, 570,0.2, 574,0.17, 578,0.21, 582,0.16, 586,0.19, 590,0.15, 594,0.2, 598,0.17, 602,0.21, 606,0.16, 610,0.2, 614,0.17, 618,0.21, 622,0.18, 626,0.23, 630,0.17, 634,0.22, 638,0.19, 642,0.24, 645,0.2];
const dasL_200 = [417,-1.0, 419,-0.3, 421,0, 423,0.2, 426,0.25, 430,0.3, 434,0.38, 437,0.44, 440,0.45, 443,0.43, 446,0.38, 450,0.3, 455,0.25, 460,0.22, 466,0.23, 472,0.22, 478,0.2, 484,0.17, 490,0.18, 496,0.16, 502,0.15, 508,0.1, 513,0, 518,-0.12, 521,-0.14, 525,-0.05, 530,0.08, 535,0.1, 540,0, 544,-0.15, 547,-0.35, 550,-0.1, 554,0.2, 558,0.25, 562,0.3, 566,0.26, 570,0.3, 574,0.25, 578,0.28, 582,0.24, 586,0.3, 590,0.23, 594,0.28, 598,0.24, 602,0.29, 606,0.22, 610,0.3, 614,0.24, 618,0.31, 622,0.25, 626,0.33, 630,0.2, 634,0.35, 638,0.18, 642,0.4, 645,-0.02, 648,0.3, 651,0.08, 654,0.38, 657,-0.05, 660,0.33, 663,0, 666,0.28, 669,-0.08, 672,0.22, 675,-0.08, 677,0.1];

// (M) Dextran 70 – excited state decay of heme
const dasM_0 = [421,-0.3, 423,-0.8, 425,-1.0, 428,-0.7, 431,-0.4, 435,-0.15, 440,0, 445,0.04, 450,0.05, 458,0.04, 466,0.03, 474,0.03, 480,0.05, 486,0.08, 490,0.06, 496,0.03, 504,0, 512,-0.02, 520,-0.04, 528,-0.07, 536,-0.1, 542,-0.1, 548,-0.08, 556,-0.04, 565,0, 575,0.05, 585,0.1, 595,0.13, 605,0.15, 615,0.15, 625,0.15, 635,0.14, 645,0.13, 655,0.12, 665,0.11, 672,0.1, 680,0.09];
const dasM_50 = [421,-0.5, 424,-0.8, 427,-0.5, 431,-0.1, 435,0.2, 440,0.5, 445,0.75, 450,0.9, 455,0.98, 460,1.0, 466,0.95, 472,0.88, 478,0.8, 485,0.7, 492,0.6, 500,0.5, 508,0.4, 516,0.3, 524,0.25, 532,0.22, 540,0.21, 546,0.2, 550,0.16, 555,0.25, 562,0.3, 570,0.36, 578,0.42, 586,0.46, 594,0.48, 602,0.5, 610,0.49, 620,0.47, 630,0.44, 640,0.4, 650,0.38, 660,0.35, 670,0.33, 680,0.31];
const dasM_100 = [421,-0.25, 424,-0.6, 427,-0.4, 431,0, 435,0.3, 440,0.55, 445,0.75, 450,0.88, 455,0.97, 459,1.0, 463,0.98, 467,0.93, 470,0.85, 474,0.9, 477,0.93, 480,0.88, 483,0.82, 486,0.86, 489,0.84, 492,0.75, 496,0.7, 500,0.65, 504,0.62, 508,0.58, 512,0.55, 516,0.5, 520,0.48, 525,0.47, 530,0.46, 535,0.45, 540,0.42, 545,0.38, 550,0.36, 555,0.38, 560,0.4, 565,0.42, 568,0.46, 572,0.42, 576,0.4, 580,0.35, 585,0.32, 590,0.28, 595,0.25, 600,0.22, 605,0.2, 610,0.17, 615,0.15, 620,0.15, 630,0.14, 640,0.13, 648,0.14, 655,0.12, 662,0.1, 668,0.06, 674,0.08, 680,0.07];
const dasM_150 = [421,-0.6, 424,-0.9, 427,-0.6, 431,-0.2, 435,0.05, 440,0.25, 445,0.37, 450,0.43, 455,0.44, 460,0.42, 466,0.38, 472,0.34, 480,0.3, 488,0.26, 496,0.22, 504,0.18, 512,0.15, 520,0.13, 528,0.12, 536,0.11, 544,0.1, 550,0.08, 555,0.1, 562,0.12, 570,0.13, 580,0.15, 590,0.17, 600,0.18, 610,0.18, 620,0.18, 630,0.17, 640,0.16, 650,0.16, 660,0.15, 670,0.15, 680,0.15];
const dasM_200 = [421,-0.7, 424,-1.0, 427,-0.5, 431,0, 435,0.25, 440,0.42, 445,0.5, 450,0.54, 455,0.56, 460,0.55, 466,0.52, 472,0.48, 480,0.43, 488,0.38, 496,0.32, 504,0.25, 510,0.2, 516,0.14, 522,0.08, 528,0.05, 534,0.04, 540,0.04, 546,0.05, 550,0.05, 556,0.12, 562,0.18, 570,0.22, 580,0.27, 590,0.3, 600,0.32, 610,0.33, 620,0.32, 630,0.31, 640,0.29, 650,0.28, 660,0.27, 670,0.26, 680,0.25];

// (N) Dextran 70 – intramolecular vibrational energy redistribution
const dasN_0 = [422,1.0, 425,0.8, 429,0.5, 433,0.4, 437,0.38, 442,0.43, 447,0.5, 452,0.54, 458,0.55, 463,0.53, 468,0.54, 473,0.52, 476,0.53, 479,0.4, 482,0.15, 485,-0.05, 488,-0.17, 491,-0.05, 495,0.15, 499,0.28, 503,0.33, 508,0.31, 514,0.32, 521,0.33, 528,0.35, 535,0.36, 541,0.34, 547,0.28, 553,0.2, 558,0.12, 562,0.06, 565,0.05, 568,0.12, 574,0.25, 582,0.35, 592,0.41, 602,0.44, 612,0.45, 622,0.43, 632,0.41, 642,0.39, 652,0.37, 661,0.35];
const dasN_50 = [422,-1.0, 426,-0.6, 430,-0.2, 435,0.05, 440,0.2, 446,0.32, 452,0.39, 458,0.42, 463,0.43, 468,0.4, 473,0.32, 477,0.18, 481,0, 484,-0.12, 487,-0.2, 490,-0.12, 494,0.05, 498,0.2, 502,0.25, 507,0.24, 513,0.2, 520,0.18, 527,0.19, 534,0.18, 541,0.15, 548,0.1, 553,0.06, 558,0.03, 562,0.02, 566,0.05, 572,0.1, 580,0.14, 590,0.17, 600,0.19, 610,0.21, 620,0.2, 630,0.18, 640,0.16, 650,0.14, 661,0.12];
const dasN_100 = [423,-0.65, 427,-0.35, 431,-0.1, 436,0.05, 441,0.12, 447,0.18, 452,0.22, 457,0.25, 461,0.27, 465,0.25, 469,0.2, 473,0.12, 477,0, 481,-0.2, 484,-0.38, 487,-0.47, 490,-0.38, 493,-0.15, 497,0.08, 501,0.17, 506,0.15, 512,0.12, 520,0.1, 528,0.1, 536,0.1, 544,0.1, 550,0.08, 555,0.05, 560,0.04, 566,0.07, 572,0.09, 580,0.11, 590,0.13, 600,0.12, 610,0.1, 620,0.14, 628,0.16, 636,0.15, 645,0.13, 653,0.11, 661,0.1];
const dasN_150 = [422,-1.0, 426,-0.6, 430,-0.2, 435,0.1, 441,0.3, 447,0.4, 453,0.43, 458,0.44, 463,0.42, 468,0.35, 473,0.22, 477,0.05, 481,-0.25, 484,-0.6, 487,-0.77, 490,-0.62, 493,-0.3, 496,-0.05, 500,0.02, 505,0.05, 512,0.1, 519,0.18, 526,0.24, 531,0.27, 536,0.25, 542,0.18, 548,0.1, 553,0.05, 557,0.02, 561,0.01, 566,0.02, 575,0.03, 585,0.04, 595,0.045, 605,0.05, 615,0.05, 625,0.05, 635,0.05, 645,0.05, 661,0.05];
const dasN_200 = [422,-0.25, 426,-0.12, 431,-0.02, 436,0.03, 441,0.05, 447,0.06, 453,0.06, 460,0.06, 466,0.06, 471,0.03, 475,-0.05, 479,-0.2, 482,-0.4, 485,-0.55, 487,-0.6, 490,-0.5, 493,-0.25, 496,0, 500,0.04, 508,0.03, 516,0.03, 524,0.02, 532,0.02, 540,0.02, 548,0.02, 556,0.01, 562,0, 568,0.01, 576,0.03, 586,0.05, 596,0.07, 606,0.09, 616,0.1, 626,0.1, 636,0.09, 646,0.08, 661,0.07];

// (O) Dextran 70 – through bond energy transfer
const dasO_0 = [414,0.35, 416,0.6, 418,0.85, 420,0.9, 422,0.85, 425,0.7, 428,0.5, 432,0.32, 436,0.18, 440,0.08, 444,0.02, 448,0, 452,0.01, 456,0.03, 460,0.05, 465,0.04, 470,0.03, 476,0.05, 482,0.06, 488,0.07, 494,0.075, 500,0.07, 505,0.02, 510,-0.04, 515,-0.09, 520,-0.13, 525,-0.15, 530,-0.13, 535,-0.09, 540,-0.06, 545,-0.04, 550,-0.02, 556,0.02, 562,0.06, 570,0.09, 578,0.1, 586,0.09, 594,0.07, 602,0.05, 612,0.04, 622,0.03, 632,0.02, 642,0.01, 652,0, 662,0, 672,-0.01, 682,-0.02, 692,-0.02, 702,-0.02, 710,-0.02];
const dasO_50 = [414,0.4, 416,0.75, 418,0.95, 420,1.0, 421,0.98, 423,1.0, 425,0.85, 428,0.6, 432,0.35, 436,0.2, 440,0.12, 444,0.1, 448,0.1, 454,0.11, 460,0.11, 466,0.1, 472,0.09, 478,0.085, 484,0.09, 490,0.09, 496,0.085, 500,0.07, 504,0.02, 509,-0.05, 514,-0.12, 518,-0.18, 522,-0.2, 526,-0.19, 530,-0.14, 534,-0.08, 538,-0.04, 542,-0.01, 546,-0.03, 550,-0.05, 554,0, 560,0.07, 566,0.13, 572,0.17, 576,0.18, 580,0.17, 586,0.14, 594,0.11, 602,0.08, 612,0.07, 622,0.06, 632,0.05, 642,0.04, 652,0.03, 662,0.02, 672,0.01, 682,0, 692,0, 702,0, 710,-0.01];
const dasO_100 = [413,0.35, 415,0.5, 417,0.75, 419,0.9, 421,0.85, 424,0.65, 428,0.45, 432,0.28, 436,0.15, 440,0.09, 444,0.07, 448,0.07, 454,0.065, 460,0.07, 470,0.075, 480,0.08, 490,0.08, 498,0.07, 502,0.04, 507,-0.02, 512,-0.07, 516,-0.1, 520,-0.11, 524,-0.1, 528,-0.05, 532,0, 536,0.03, 540,0.04, 544,0.02, 548,-0.02, 552,-0.01, 556,0.02, 562,0.06, 568,0.09, 574,0.1, 580,0.1, 586,0.09, 594,0.07, 602,0.05, 612,0.03, 622,0.02, 632,0.01, 642,0, 652,-0.01, 662,-0.015, 672,-0.02, 682,-0.025, 692,-0.03, 702,-0.03, 710,-0.03];
const dasO_150 = [414,0.7, 416,0.9, 418,1.0, 420,1.0, 422,0.9, 425,0.75, 428,0.55, 432,0.33, 436,0.2, 440,0.12, 444,0.1, 450,0.1, 460,0.1, 470,0.1, 480,0.09, 490,0.085, 498,0.08, 502,0.05, 507,-0.02, 512,-0.1, 516,-0.16, 520,-0.19, 524,-0.18, 528,-0.13, 532,-0.07, 536,-0.02, 540,0, 544,-0.02, 548,-0.04, 552,0, 558,0.06, 564,0.1, 570,0.13, 576,0.15, 582,0.14, 590,0.11, 600,0.09, 610,0.07, 620,0.06, 630,0.05, 640,0.04, 650,0.03, 660,0.02, 670,0.01, 680,0.01, 690,0.005, 700,0, 710,0.005];
const dasO_200 = [412,-0.25, 414,0, 416,0.3, 418,0.4, 420,0.44, 422,0.42, 425,0.3, 429,0.15, 433,0.05, 437,-0.02, 441,-0.06, 445,-0.09, 449,-0.11, 452,-0.12, 456,-0.1, 462,-0.08, 468,-0.06, 474,-0.05, 480,-0.04, 486,-0.03, 492,-0.02, 498,-0.02, 503,-0.05, 508,-0.1, 513,-0.17, 518,-0.22, 522,-0.23, 526,-0.22, 530,-0.18, 534,-0.14, 538,-0.12, 542,-0.1, 546,-0.1, 550,-0.06, 556,0, 562,0.05, 568,0.08, 574,0.1, 580,0.1, 588,0.08, 596,0.06, 606,0.04, 616,0.03, 626,0.02, 636,0.01, 646,0, 656,-0.01, 666,-0.015, 676,-0.02, 686,-0.025, 696,-0.03, 702,-0.04, 710,-0.03];

// (P) Dextran 70 – through space energy transfer
const dasP_0 = [422,-1.0, 424,-0.8, 426,-0.65, 428,-0.62, 430,-0.64, 433,-0.6, 437,-0.5, 441,-0.38, 446,-0.25, 451,-0.14, 457,-0.07, 463,-0.03, 470,-0.01, 478,0, 486,0.02, 494,0.04, 500,0.03, 506,0.01, 512,-0.02, 518,-0.04, 523,-0.03, 528,0, 535,0.03, 542,0.04, 548,0.04, 552,0.06, 556,0.09, 560,0.06, 566,0.03, 572,0, 580,-0.02, 590,-0.03, 600,-0.02, 610,-0.01, 620,0, 630,0.02, 640,0.03, 650,0.05, 660,0.05, 669,0.04];
const dasP_50 = [422,0, 424,0.5, 425,1.0, 426,0.8, 427,0.5, 428,0.7, 429,0.3, 430,0.5, 431,0.2, 433,0.3, 435,0.1, 437,0.15, 440,0, 443,0.05, 446,-0.05, 450,-0.02, 455,-0.04, 460,-0.02, 466,0.02, 472,0.05, 478,0.08, 484,0.1, 490,0.15, 496,0.18, 500,0.17, 505,0.1, 510,0, 515,-0.15, 518,-0.25, 522,-0.3, 526,-0.28, 531,-0.25, 536,-0.22, 540,-0.22, 544,-0.25, 547,-0.3, 549,-0.33, 552,-0.05, 556,0.02, 562,0.05, 568,0.08, 574,0.1, 580,0.12, 586,0.08, 592,0.1, 598,0.07, 604,0.1, 610,0.08, 616,0.12, 622,0.1, 628,0.12, 634,0.15, 640,0.12, 646,0.14, 652,0.1, 658,0.08, 664,0.05, 669,0.03];
const dasP_100 = [420,0, 421,0.5, 422,0.3, 423,-0.4, 424,0.4, 425,0.1, 427,0, 430,-0.05, 433,0, 437,-0.02, 441,-0.05, 446,-0.06, 452,-0.05, 458,-0.04, 464,-0.02, 470,0, 476,0.02, 482,0.03, 488,0.05, 494,0.05, 500,0.06, 506,0.02, 511,-0.05, 516,-0.15, 520,-0.22, 524,-0.22, 528,-0.19, 533,-0.17, 538,-0.15, 543,-0.16, 547,-0.2, 549,-0.21, 552,-0.05, 556,0, 562,0.03, 568,0.05, 576,0.06, 584,0.07, 592,0.06, 600,0.05, 610,0.06, 620,0.07, 630,0.08, 640,0.08, 648,0.09, 656,0.07, 662,0.05, 669,0.03];
const dasP_150 = [420,-0.8, 421,-0.4, 422,0, 423,0.3, 425,0, 427,0.15, 429,-0.1, 432,-0.15, 435,-0.1, 438,-0.12, 441,-0.05, 445,-0.08, 450,-0.05, 456,-0.06, 462,-0.03, 468,0, 474,0.02, 480,0.04, 486,0.06, 492,0.09, 498,0.1, 504,0.06, 509,0, 514,-0.07, 518,-0.12, 522,-0.13, 527,-0.12, 532,-0.1, 537,-0.09, 542,-0.1, 546,-0.14, 549,-0.16, 552,-0.03, 556,0.02, 562,0.04, 570,0.06, 580,0.07, 590,0.08, 600,0.06, 610,0.07, 620,0.08, 630,0.1, 640,0.11, 648,0.1, 656,0.08, 662,0.05, 669,0.03];
const dasP_200 = [420,0, 421,1.0, 422,0.6, 423,0.8, 424,0.3, 425,0.1, 426,-0.1, 427,0.2, 428,-0.3, 429,-0.1, 430,-0.5, 431,-0.45, 432,-0.6, 433,-0.55, 434,-0.5, 435,-0.65, 436,-0.85, 437,-0.55, 439,-0.5, 441,-0.55, 443,-0.45, 446,-0.4, 449,-0.35, 452,-0.3, 456,-0.25, 460,-0.18, 465,-0.1, 470,-0.05, 476,0, 482,0.05, 488,0.12, 492,0.18, 496,0.22, 499,0.25, 502,0.22, 506,0.12, 510,0, 514,-0.15, 517,-0.3, 520,-0.35, 524,-0.32, 528,-0.28, 533,-0.3, 538,-0.27, 542,-0.3, 545,-0.38, 548,-0.44, 551,-0.2, 554,-0.05, 558,0, 562,0.02, 568,0.04, 575,0.06, 582,0.05, 590,0.07, 598,0.05, 606,0.08, 614,0.1, 620,0.12, 626,0.15, 630,0.18, 634,0.2, 638,0.15, 642,0.16, 646,0.12, 652,0.12, 658,0.1, 664,0.08, 669,0.05];

type Box = [number, number, number, number];
type Panel = {
  id: string;
  series: number[][];
  x: [number, number];
  y: [number, number];
  xTicks: number[];
  yTicks: number[];
  decimals: number;
  noisy: boolean;
  box: Box; // plot area: left, top, right, bottom
  legend: Box; // left, top, width, height
  letter: [number, number];
  dasX: number;
  waveY: number;
};

const PANELS: Panel[] = [
  { id: "A", series: [dasA_0, dasA_50, dasA_100, dasA_150, dasA_200], x: [423, 662], y: [-0.6, 1.1], xTicks: X_TICKS_650, yTicks: Y_TICKS_A, decimals: 1, noisy: false, box: [270, 123, 525, 325], legend: [436, 257, 83, 61], letter: [181, 117], dasX: 215, waveY: 362 },
  { id: "B", series: [dasB_0, dasB_50, dasB_100, dasB_150, dasB_200], x: [417, 658], y: [-1.1, 1.08], xTicks: X_TICKS_650, yTicks: Y_TICKS_B, decimals: 1, noisy: false, box: [604, 129, 861, 333], legend: [740, 238, 100, 82], letter: [550, 117], dasX: 549, waveY: 369 },
  { id: "C", series: [dasC_0, dasC_50, dasC_100, dasC_150, dasC_200], x: [419, 657], y: [-0.4, 1.05], xTicks: X_TICKS_650, yTicks: Y_TICKS_C, decimals: 1, noisy: false, box: [956, 136, 1217, 332], legend: [1098, 148, 98, 72], letter: [895, 120], dasX: 900, waveY: 367 },
  { id: "D", series: [dasD_0, dasD_50, dasD_100, dasD_150, dasD_200], x: [409, 700], y: [-2.3, 2.58], xTicks: X_TICKS_700, yTicks: Y_TICKS_D, decimals: 0, noisy: true, box: [1310, 135, 1556, 329], legend: [1447, 145, 101, 73], letter: [1249, 127], dasX: 1265, waveY: 365 },
  { id: "E", series: [dasE_0, dasE_50, dasE_100, dasE_150, dasE_200], x: [425, 662], y: [-0.127, 0.455], xTicks: X_TICKS_650, yTicks: Y_TICKS_E, decimals: 1, noisy: false, box: [267, 380, 525, 588], legend: [423, 395, 89, 65], letter: [185, 383], dasX: 210, waveY: 626 },
  { id: "F", series: [dasF_0, dasF_50, dasF_100, dasF_150, dasF_200], x: [415, 663], y: [-1.05, 1.05], xTicks: X_TICKS_650, yTicks: Y_TICKS_UNIT, decimals: 1, noisy: false, box: [603, 396, 864, 588], legend: [722, 506, 98, 72], letter: [551, 381], dasX: 549, waveY: 626 },
  { id: "G", series: [dasG_0, dasG_50, dasG_100, dasG_150, dasG_200], x: [409, 707], y: [-0.256, 1.146], xTicks: X_TICKS_700, yTicks: Y_TICKS_G, decimals: 1, noisy: false, box: [949, 385, 1206, 591], legend: [1076, 404, 109, 80], letter: [893, 384], dasX: 900, waveY: 628 },
  { id: "H", series: [dasH_0, dasH_50, dasH_100, dasH_150, dasH_200], x: [415, 660], y: [-1.053, 0.7], xTicks: X_TICKS_650, yTicks: Y_TICKS_H, decimals: 1, noisy: true, box: [1306, 387, 1566, 583], legend: [1457, 498, 103, 72], letter: [1241, 383], dasX: 1250, waveY: 619 },
  { id: "I", series: [dasI_0, dasI_50, dasI_100, dasI_150, dasI_200], x: [421, 691], y: [-0.151, 0.283], xTicks: X_TICKS_650, yTicks: Y_TICKS_I, decimals: 1, noisy: false, box: [262, 641, 517, 844], legend: [437, 767, 73, 69], letter: [192, 633], dasX: 200, waveY: 879 },
  { id: "J", series: [dasJ_0, dasJ_50, dasJ_100, dasJ_150, dasJ_200], x: [418, 702], y: [-1.094, 1.04], xTicks: X_TICKS_700, yTicks: Y_TICKS_UNIT, decimals: 1, noisy: false, box: [607, 641, 868, 842], legend: [750, 757, 98, 73], letter: [551, 633], dasX: 560, waveY: 880 },
  { id: "K", series: [dasK_0, dasK_50, dasK_100, dasK_150, dasK_200], x: [413, 652], y: [-0.6, 1.09], xTicks: X_TICKS_650, yTicks: Y_TICKS_K, decimals: 1, noisy: false, box: [954, 640, 1204, 836], legend: [1083, 659, 102, 74], letter: [893, 633], dasX: 900, waveY: 872 },
  { id: "L", series: [dasL_0, dasL_50, dasL_100, dasL_150, dasL_200], x: [412, 689], y: [-1.05, 0.608], xTicks: X_TICKS_650, yTicks: Y_TICKS_H, decimals: 1, noisy: true, box: [1302, 652, 1563, 849], legend: [1462, 768, 98, 70], letter: [1249, 636], dasX: 1247, waveY: 884 },
  { id: "M", series: [dasM_0, dasM_50, dasM_100, dasM_150, dasM_200], x: [421, 680], y: [-1.054, 1.12], xTicks: X_TICKS_650, yTicks: Y_TICKS_UNIT, decimals: 1, noisy: false, box: [265, 899, 524, 1097], legend: [413, 1013, 99, 72], letter: [194, 893], dasX: 207, waveY: 1133 },
  { id: "N", series: [dasN_0, dasN_50, dasN_100, dasN_150, dasN_200], x: [419, 661], y: [-1.093, 1.1], xTicks: X_TICKS_650, yTicks: Y_TICKS_UNIT, decimals: 1, noisy: false, box: [614, 905, 874, 1107], legend: [752, 1021, 96, 73], letter: [543, 897], dasX: 560, waveY: 1145 },
  { id: "O", series: [dasO_0, dasO_50, dasO_100, dasO_150, dasO_200], x: [410, 710], y: [-0.304, 1.054], xTicks: X_TICKS_O, yTicks: Y_TICKS_G, decimals: 1, noisy: false, box: [954, 889, 1214, 1096], legend: [1095, 913, 102, 75], letter: [891, 893], dasX: 900, waveY: 1133 },
  { id: "P", series: [dasP_0, dasP_50, dasP_100, dasP_150, dasP_200], x: [419, 669], y: [-1.091, 1.084], xTicks: X_TICKS_650, yTicks: Y_TICKS_UNIT, decimals: 1, noisy: true, box: [1308, 902, 1564, 1098], legend: [1453, 1017, 109, 71], letter: [1249, 890], dasX: 1247, waveY: 1135 },
];

const COLUMN_TITLES: { lines: string[]; x: number; y: number[] }[] = [
  { lines: ["Excited State", "Decay of Heme"], x: 388, y: [55, 92] },
  { lines: ["Intramolecular", "Vibrational Energy", "Redistribution"], x: 740, y: [25, 62, 98] },
  { lines: ["Through Bond Energy", "Transfer"], x: 1085, y: [69, 105] },
  { lines: ["Through Space", "Energy", "Transfer"], x: 1448, y: [43, 80, 116] },
];

const ROW_LABELS: { text: string; x: number; y: number }[] = [
  { text: "PEG 8", x: 113, y: 235 },
  { text: "Ficoll 70", x: 113, y: 497 },
  { text: "Dextran 40", x: 96, y: 750 },
  { text: "Dextran 70", x: 96, y: 1007 },
];

const TITLE_SIZE = 16.5;
const TICK_SIZE = 13.5;
const TITLE_LH = TITLE_SIZE * 1.2; // Chart.js default line height

function toPoints(flat: number[]) {
  const pts: { x: number; y: number }[] = [];
  for (let i = 0; i < flat.length; i += 2) pts.push({ x: flat[i], y: flat[i + 1] });
  return pts;
}

function geometry(p: Panel) {
  const L = p.box[0] * K, T = p.box[1] * K, R = p.box[2] * K, B = p.box[3] * K;
  const x = Math.round(p.dasX * K - TITLE_LH / 2);
  const y = Math.round(T - 14);
  const bottom = Math.round(p.waveY * K + TITLE_LH / 2);
  const right = Math.round(R + 18);
  return { x, y, w: right - x, h: bottom - y, yW: L - x, xH: bottom - B, padTop: T - y, padRight: right - R };
}

function DasPanel({ panel }: { panel: Panel }) {
  const ref = useRef<HTMLCanvasElement>(null);
  const g = geometry(panel);

  useEffect(() => {
    const canvas = ref.current;
    if (!canvas) return;
    const tickFont = { family: FONT, size: TICK_SIZE, weight: "bold" as const };
    const titleFont = { family: FONT, size: TITLE_SIZE, weight: "bold" as const };

    const framePlugin = {
      id: "frameTicks",
      afterDatasetsDraw(chart: any) {
        const { ctx, chartArea: a, scales } = chart;
        ctx.save();
        ctx.strokeStyle = "#000";
        ctx.lineWidth = 2;
        ctx.strokeRect(a.left, a.top, a.right - a.left, a.bottom - a.top);
        ctx.lineWidth = 1.6;
        ctx.beginPath();
        for (const v of panel.xTicks) {
          const px = scales.x.getPixelForValue(v);
          ctx.moveTo(px, a.bottom);
          ctx.lineTo(px, a.bottom - 5);
          ctx.moveTo(px, a.top);
          ctx.lineTo(px, a.top + 5);
        }
        for (const v of panel.yTicks) {
          const py = scales.y.getPixelForValue(v);
          ctx.moveTo(a.left, py);
          ctx.lineTo(a.left + 5, py);
          ctx.moveTo(a.right, py);
          ctx.lineTo(a.right - 5, py);
        }
        ctx.stroke();
        ctx.restore();
      },
    };

    const legendPlugin = {
      id: "insetLegend",
      afterDraw(chart: any) {
        const ctx = chart.ctx;
        const bx = panel.legend[0] * K - g.x;
        const by = panel.legend[1] * K - g.y;
        const bw = panel.legend[2] * K;
        const bh = panel.legend[3] * K;
        ctx.save();
        ctx.fillStyle = "#ffffff";
        ctx.fillRect(bx, by, bw, bh);
        ctx.strokeStyle = "#8a8a8a";
        ctx.lineWidth = 1.2;
        ctx.strokeRect(bx, by, bw, bh);
        const row = (bh - 6) / 5;
        const sample = bw * 0.21;
        const room = bw - sample - 9;
        let fs = row * 0.8;
        ctx.font = `bold ${fs.toFixed(1)}px ${FONT}`;
        const widest = ctx.measureText(LEGEND_LABELS[0]).width;
        if (widest > room) {
          fs = (fs * room) / widest;
          ctx.font = `bold ${fs.toFixed(1)}px ${FONT}`;
        }
        ctx.textBaseline = "middle";
        LEGEND_LABELS.forEach((label, i) => {
          const cy = by + 3 + row * (i + 0.5);
          ctx.strokeStyle = LINE_COLORS[i];
          ctx.lineWidth = 2.6;
          ctx.beginPath();
          ctx.moveTo(bx + 4, cy);
          ctx.lineTo(bx + 4 + sample, cy);
          ctx.stroke();
          ctx.fillStyle = "#000";
          ctx.fillText(label, bx + 5 + sample, cy + 0.5);
        });
        ctx.restore();
      },
    };

    const chart = new Chart(canvas, {
      type: "line",
      data: {
        datasets: panel.series.map((s, i) => ({
          label: LEGEND_LABELS[i],
          data: toPoints(s),
          borderColor: LINE_COLORS[i],
          backgroundColor: LINE_COLORS[i],
          borderWidth: 2.2,
          pointRadius: 0,
          fill: false,
          tension: 0,
          cubicInterpolationMode: panel.noisy ? "default" : "monotone",
          order: 4 - i,
        })),
      },
      options: {
        animation: false,
        responsive: false,
        maintainAspectRatio: false,
        events: [],
        layout: { padding: { top: g.padTop, right: g.padRight, left: 0, bottom: 0 } },
        plugins: { legend: { display: false }, tooltip: { enabled: false } },
        scales: {
          x: {
            type: "linear",
            min: panel.x[0],
            max: panel.x[1],
            afterBuildTicks: (s: any) => {
              s.ticks = panel.xTicks.map((v) => ({ value: v }));
            },
            afterFit: (s: any) => {
              s.height = g.xH;
            },
            grid: { display: false, drawTicks: false },
            border: { display: false },
            ticks: {
              color: "#000",
              font: tickFont,
              padding: 5,
              maxRotation: 0,
              autoSkip: false,
              callback: (v: any) => String(v),
            },
            title: { display: true, text: "Wavelength (nm)", color: "#000", font: titleFont, padding: 0 },
          },
          y: {
            type: "linear",
            min: panel.y[0],
            max: panel.y[1],
            afterBuildTicks: (s: any) => {
              s.ticks = panel.yTicks.map((v) => ({ value: v }));
            },
            afterFit: (s: any) => {
              s.width = g.yW;
            },
            grid: { display: false, drawTicks: false },
            border: { display: false },
            ticks: {
              color: "#000",
              font: tickFont,
              padding: 6,
              autoSkip: false,
              callback: (v: any) => Number(v).toFixed(panel.decimals),
            },
            title: { display: true, text: "DAS", color: "#000", font: titleFont, padding: 0 },
          },
        },
      } as any,
      plugins: [framePlugin, legendPlugin],
    });
    return () => chart.destroy();
  }, []);

  return (
    <canvas
      ref={ref}
      width={g.w}
      height={g.h}
      style={{ position: "absolute", left: g.x, top: g.y, width: g.w, height: g.h }}
    />
  );
}

const centered = (x: number, y: number, size: number): React.CSSProperties => ({
  position: "absolute",
  left: x * K,
  top: y * K,
  transform: "translate(-50%, -50%)",
  fontFamily: FONT,
  fontWeight: "bold",
  fontSize: size,
  lineHeight: 1,
  whiteSpace: "nowrap",
  color: "#000",
});

export default function App() {
  return (
    <div
      style={{
        position: "absolute",
        left: 0,
        top: 0,
        width: 1585,
        height: 1168,
        background: "#ffffff",
        overflow: "hidden",
      }}
    >
      {PANELS.map((p) => (
        <DasPanel key={p.id} panel={p} />
      ))}
      {COLUMN_TITLES.map((c) =>
        c.lines.map((line, i) => (
          <div key={c.x + line} style={centered(c.x, c.y[i], 31)}>
            {line}
          </div>
        ))
      )}
      {ROW_LABELS.map((r) => (
        <div key={r.text} style={centered(r.x, r.y, 35)}>
          {r.text}
        </div>
      ))}
      {PANELS.map((p) => (
        <div
          key={"letter" + p.id}
          style={{
            position: "absolute",
            left: p.letter[0] * K,
            top: p.letter[1] * K,
            transform: "translateY(-50%)",
            fontFamily: FONT,
            fontWeight: "bold",
            fontSize: 28,
            lineHeight: 1,
            color: "#000",
          }}
        >
          ({p.id})
        </div>
      ))}
    </div>
  );
}
